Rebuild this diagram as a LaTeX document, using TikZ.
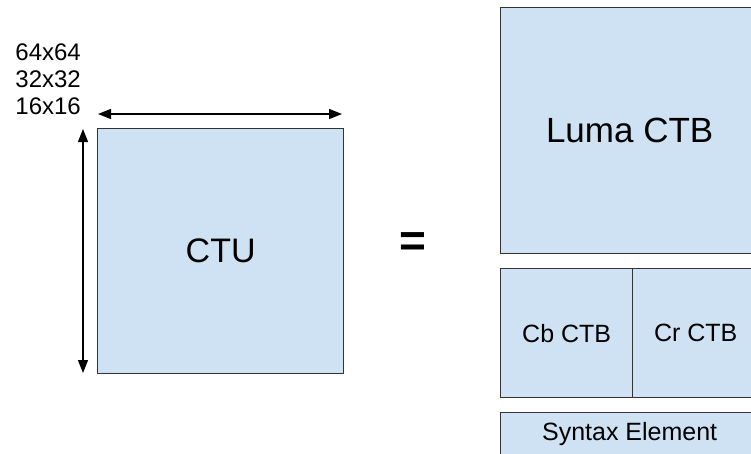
\documentclass[tikz,border=0pt]{standalone}
\usepackage{fontspec}
\setmainfont{Liberation Sans}
\usetikzlibrary{arrows.meta}
\definecolor{boxfill}{HTML}{CFE2F3}
\definecolor{boxline}{HTML}{333333}
\begin{document}
\begin{tikzpicture}[x=1pt,y=-1pt,
  blk/.style={draw=boxline,fill=boxfill,line width=1.3pt,inner sep=0pt,anchor=north west},
  dimarrow/.style={line width=1.4pt,{Triangle[length=13pt,width=10pt]}-{Triangle[length=13pt,width=10pt]}}]
\useasboundingbox (0,0) rectangle (751,453);
\clip (0,0) rectangle (751,453);
% CTU
\node[blk,minimum width=246pt,minimum height=245pt,font=\fontsize{34}{40}\selectfont] (ctu) at (97,128) {CTU};
% sizes
\node[align=right,anchor=north east,inner sep=0pt,font=\fontsize{24}{27}\selectfont] (sizes) at (81,44) {64x64\\32x32\\16x16};
% dimension arrows
\coordinate (h1) at (98,114);
\coordinate (h2) at (342,114);
\coordinate (v1) at (83,129);
\coordinate (v2) at (83,373);
\draw[dimarrow] (h1) -- (h2);
\draw[dimarrow] (v1) -- (v2);
% equals
\node[font=\fontsize{46}{50}\bfseries\selectfont,inner sep=0pt] (eq) at (413,245) {=};
% right side
\node[blk,minimum width=258pt,minimum height=246pt,font=\fontsize{35}{40}\selectfont] (luma) at (500,7) {Luma CTB};
\node[blk,minimum width=132pt,minimum height=129pt,font=\fontsize{25}{30}\selectfont] (cb) at (500,268) {Cb CTB};
\node[blk,minimum width=126pt,minimum height=129pt,font=\fontsize{25}{30}\selectfont] (cr) at (632,268) {Cr CTB};
\node[blk,minimum width=258pt,minimum height=42pt,font=\fontsize{25}{30}\selectfont] (syn) at (500,412) {Syntax Element};
\end{tikzpicture}
\end{document}
